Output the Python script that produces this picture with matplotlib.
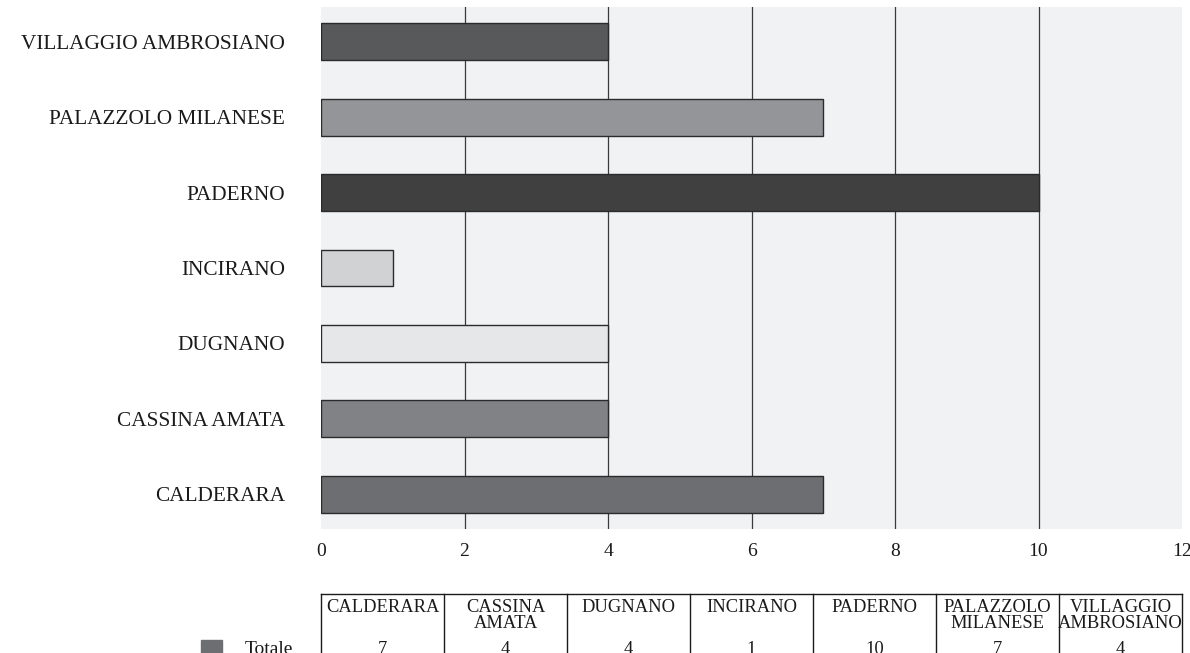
import matplotlib.pyplot as plt
from matplotlib.patches import Rectangle

plt.rcParams['font.family'] = ['Liberation Serif', 'DejaVu Serif']

# data
categories = ["CALDERARA", "CASSINA AMATA", "DUGNANO", "INCIRANO",
              "PADERNO", "PALAZZOLO MILANESE", "VILLAGGIO AMBROSIANO"]
table_headers = ["CALDERARA", "CASSINA\nAMATA", "DUGNANO", "INCIRANO",
                 "PADERNO", "PALAZZOLO\nMILANESE", "VILLAGGIO\nAMBROSIANO"]
totale = [7, 4, 4, 1, 10, 7, 4]
colors = ["#6d6e71", "#808285", "#e6e7e8", "#d0d2d3",
          "#404041", "#939598", "#58595b"]
xticks = [0, 2, 4, 6, 8, 10, 12]

W, H = 1190, 653
fig = plt.figure(figsize=(W / 100, H / 100), dpi=100)

# main bar chart
ax = fig.add_axes([321 / W, 1 - 529 / H, 861 / W, 522 / H])
ax.set_facecolor("#f1f2f4")
ax.barh(range(len(categories)), totale, height=0.49, color=colors,
        edgecolor="#2b2b2b", linewidth=1, zorder=3)
ax.set_xlim(0, 12)
ax.set_ylim(-0.46, len(categories) - 1 + 0.46)
ax.set_xticks(xticks)
ax.set_yticks(range(len(categories)))
ax.set_yticklabels(categories)
for x in xticks[1:-1]:
    ax.axvline(x, color="#3a3a3a", linewidth=0.9, zorder=1)
for s in ax.spines.values():
    s.set_visible(False)
ax.tick_params(axis="both", length=0, colors="#1a1a1a")
ax.tick_params(axis="y", pad=26, labelsize=15.3)
ax.tick_params(axis="x", pad=10, labelsize=14)

# data table under the chart
tab = fig.add_axes([321 / W, 0, 861 / W, 59 / H])
tab.set_xlim(0, len(categories))
tab.set_ylim(59, 0)
tab.axis("off")
tab.plot([0, len(categories)], [0, 0], color="#1a1a1a", linewidth=1, clip_on=False)
for i in range(len(categories) + 1):
    tab.plot([i, i], [0, 62], color="#1a1a1a", linewidth=1, clip_on=False)
for i, (hdr, v) in enumerate(zip(table_headers, totale)):
    tab.text(i + 0.5, 5, hdr, ha="center", va="top", fontsize=13.3,
             linespacing=0.95, color="#1a1a1a")
    tab.text(i + 0.5, 47, str(v), ha="center", va="top", fontsize=13.3,
             color="#1a1a1a", clip_on=False)

# legend cell
fig.patches.append(Rectangle((201 / W, 0), 21 / W, 13 / H,
                             transform=fig.transFigure, color="#6d6e71"))
fig.text(245 / W, 12 / H, "Totale", ha="left", va="top", fontsize=14,
         color="#1a1a1a")

fig.savefig("out.png", dpi=100)
